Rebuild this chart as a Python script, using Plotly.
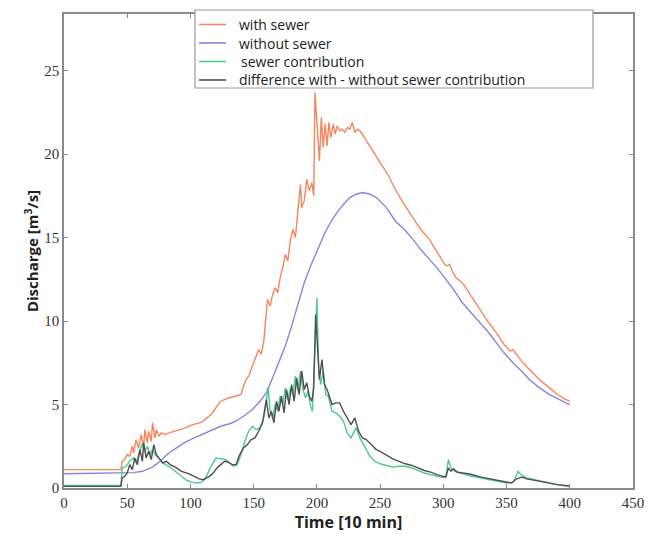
import plotly.graph_objects as go

# ---- data (time in 10-min steps, discharge in m3/s) ----
t_with = [
    0, 45, 46, 48, 50, 52, 54, 55, 57, 59,
    61, 63, 64, 66, 67, 69, 70, 72, 73, 75,
    77, 80, 85, 90, 96, 100, 105, 109, 113, 117,
    120, 124, 127, 130, 133, 136, 140, 142, 144, 146,
    149, 151, 154, 156, 158, 159.5, 161, 163, 165, 167,
    169, 171, 173, 175, 177, 179, 181, 183, 185, 187,
    188, 190, 192, 194, 196, 197.5, 198.5, 200.5, 202, 203.5,
    205, 206.5, 208, 209.5, 211, 213, 214.5, 216, 218, 220,
    222, 224, 226, 228, 230, 232, 234, 236, 240, 245,
    250, 256, 262, 269, 276, 282, 289, 296, 301, 303,
    305, 307, 310, 315, 322, 329, 336, 342, 348, 353,
    355, 357, 362, 368, 376, 384, 390, 397, 400,
]
q_with = [
    1.1, 1.1, 1.6, 1.7, 2.0, 1.9, 2.5, 2.1, 2.9, 2.4,
    3.2, 2.5, 3.5, 2.7, 3.4, 2.8, 3.9, 3.0, 3.5, 3.1,
    3.3, 3.2, 3.35, 3.45, 3.6, 3.75, 3.85, 3.95, 4.2, 4.45,
    4.8, 5.2, 5.3, 5.4, 5.45, 5.5, 5.6, 6.1, 6.5, 6.7,
    7.3, 7.6, 8.3, 8.0, 8.8, 10.1, 11.3, 10.9, 11.6, 12.0,
    11.7, 12.6, 13.2, 14.0, 13.6, 14.8, 15.5, 15.0, 16.4, 18.2,
    16.8, 17.2, 18.5, 17.8, 18.3, 17.5, 23.7, 21.0, 19.6, 22.2,
    20.4, 21.8, 20.5, 21.9, 21.0, 21.8, 21.2, 21.7, 21.4, 21.5,
    21.3, 21.6, 21.5, 21.9, 21.3, 21.5, 21.4, 21.2, 20.7, 20.1,
    19.5, 18.8, 17.9, 17.0, 16.2, 15.5, 14.9, 14.0, 13.4, 13.3,
    13.4, 13.0, 12.6, 12.3, 11.5, 10.7, 9.9, 9.3, 8.6, 8.2,
    8.3, 8.1, 7.6, 7.1, 6.5, 6.0, 5.6, 5.3, 5.2,
]

t_without = [
    0, 40, 55, 62, 70, 76, 83, 90, 96, 103,
    109, 116, 124, 131, 136, 142, 149, 155, 160, 165,
    170, 175, 180, 185, 190, 195, 200, 207, 214, 220,
    226, 231, 236, 242, 247, 255, 262, 269, 276, 282,
    289, 296, 302, 308, 315, 322, 329, 336, 342, 348,
    355, 362, 368, 376, 384, 390, 397, 400,
]
q_without = [
    0.85, 0.9, 0.92, 1.0, 1.25, 1.6, 2.1, 2.45, 2.75, 3.0,
    3.2, 3.45, 3.7, 3.85, 4.0, 4.3, 4.7, 5.2, 5.7, 6.6,
    7.5, 8.5, 9.7, 11.0, 12.3, 13.3, 14.2, 15.4, 16.3, 16.9,
    17.4, 17.6, 17.7, 17.6, 17.4, 16.8, 16.0, 15.5, 14.9, 14.3,
    13.7, 13.1, 12.5, 11.9, 11.1, 10.5, 9.9, 9.3, 8.7, 8.1,
    7.5, 7.0, 6.5, 6.0, 5.6, 5.35, 5.1, 5.0,
]

t_contrib = [
    0, 30, 45, 46, 49, 52, 55, 57, 59, 62,
    64, 66, 68, 70, 72, 75, 78, 83, 88, 93,
    97, 101, 105, 109, 112, 115, 117, 120, 124, 128,
    131, 134, 137, 140, 143, 146, 149, 152, 155, 158,
    160, 161.5, 163, 165, 167, 169, 171, 173, 175, 177,
    179, 181, 183, 185, 187, 189, 191, 193, 195, 196.5,
    198, 200, 201.5, 203, 205, 207, 209, 212, 215, 218,
    221, 224, 227, 229, 231, 234, 238, 242, 246, 250,
    255, 260, 265, 270, 275, 280, 285, 290, 295, 300,
    302, 304, 306, 309, 314, 320, 330, 340, 350, 355,
    357, 359, 362, 366, 372, 380, 390, 400,
]
q_contrib = [
    0.15, 0.15, 0.15, 1.2, 1.3, 1.6, 1.8, 1.5, 2.0, 2.7,
    2.2, 2.5, 2.0, 2.3, 2.0, 1.8, 1.5, 1.3, 1.0, 0.7,
    0.45, 0.35, 0.3, 0.35, 0.6, 1.1, 1.4, 1.8, 1.75, 1.7,
    1.5, 1.3, 1.4, 2.0, 2.8, 3.4, 3.7, 3.5, 3.6, 4.2,
    5.2, 6.0, 4.6, 4.2, 5.0, 4.6, 5.5, 5.0, 6.0, 5.3,
    6.0, 5.6, 6.7, 5.8, 7.0, 5.9, 5.4, 5.8, 4.9, 4.6,
    7.5, 11.4, 7.0, 6.2, 7.0, 5.6, 5.5, 4.6, 4.5, 4.3,
    4.0, 3.3, 3.0, 3.3, 3.6, 3.0, 2.4, 1.9, 1.6, 1.45,
    1.35, 1.25, 1.3, 1.3, 1.2, 1.05, 0.9, 0.8, 0.7, 0.62,
    0.7, 1.7, 1.2, 1.0, 0.9, 0.75, 0.6, 0.45, 0.3, 0.35,
    0.6, 1.0, 0.75, 0.6, 0.5, 0.35, 0.2, 0.1,
]

t_diff = [
    0, 30, 45, 46, 48, 50, 52, 54, 56, 58,
    60, 62, 63, 65, 67, 69, 71, 73, 75, 78,
    81, 84, 88, 93, 99, 103, 107, 110, 113, 115,
    118, 121, 124, 127, 130, 133, 136, 139, 142, 145,
    148, 151, 154, 157, 160, 162, 164, 166, 168, 170,
    172, 174, 176, 178, 180, 182, 184, 186, 188, 190,
    192, 194, 196, 197.5, 199, 200.5, 202, 204, 206, 208,
    210, 212, 215, 218, 221, 224, 227, 230, 233, 236,
    239, 243, 247, 250, 255, 260, 265, 270, 275, 280,
    285, 290, 295, 300, 302, 304, 306, 308, 311, 315,
    320, 330, 340, 350, 354, 358, 362, 366, 372, 380,
    390, 400,
]
q_diff = [
    0.1, 0.1, 0.1, 0.6, 0.7, 0.9, 1.4, 1.1, 1.8, 1.4,
    2.3, 1.6, 2.7, 1.8, 2.2, 1.7, 2.6, 2.0, 1.8, 1.5,
    1.6, 1.4, 1.25, 1.0, 0.85, 0.7, 0.55, 0.5, 0.6, 0.7,
    0.9, 1.2, 1.4, 1.6, 1.55, 1.4, 1.4, 2.0, 2.4, 2.6,
    2.9, 3.0, 3.4, 3.9, 5.3, 4.2, 4.6, 3.9, 5.2, 4.6,
    5.5, 4.5, 5.9, 5.0, 6.2, 5.2, 6.6, 5.6, 7.0, 5.9,
    6.3, 5.5, 5.2, 6.0, 10.4, 8.0, 6.5, 7.7, 6.2, 5.9,
    5.4, 5.0, 5.1, 5.1, 4.6, 4.2, 3.8, 4.2, 3.4, 3.0,
    2.9, 2.6, 2.3, 2.2, 1.95, 1.75, 1.6, 1.45, 1.35, 1.2,
    1.05, 0.95, 0.8, 0.7, 0.65, 1.2, 1.0, 1.15, 0.95, 0.9,
    0.85, 0.65, 0.5, 0.32, 0.3, 0.55, 0.65, 0.55, 0.45, 0.35,
    0.2, 0.12,
]

x_ticks = [0, 50, 100, 150, 200, 250, 300, 350, 400, 450]
y_ticks = [0, 5, 10, 15, 20, 25]

series_names = ["with sewer", "without sewer", "sewer contribution",
                "difference with - without sewer contribution"]
series_colors = ["#F5865C", "#8585DC", "#4CCB8E", "#4F4F4F"]

# ---- layout geometry (pixels); the page body adds an 8px offset ----
OFF = 8
W, H = 653 - OFF, 538 - OFF
ML, MR, MT, MB = 64 - OFF, 20, 14 - OFF, 50
PW, PH = W - ML - MR, H - MT - MB


def px_x(p):
    # page pixel -> paper fraction
    return (p - OFF - ML) / PW


def px_y(p):
    return (H - MB - (p - OFF)) / PH


fig = go.Figure()
for (tx, qy), name, col in zip(
    [(t_with, q_with), (t_without, q_without), (t_contrib, q_contrib), (t_diff, q_diff)],
    series_names, series_colors,
):
    fig.add_trace(go.Scatter(x=tx, y=qy, mode="lines", name=name, showlegend=False,
                             line=dict(color=col, width=1.4)))

axis_common = dict(
    ticks="inside", ticklen=4, tickcolor="#8a8a8a", tickwidth=1,
    showline=True, linecolor="#8a8a8a", linewidth=1.5, mirror="ticks",
    showgrid=False, zeroline=False, automargin=False,
    tickfont=dict(family="Liberation Serif", size=15, color="#333333"),
)

fig.update_xaxes(range=[0, 450], tickvals=x_ticks,
                 title=dict(text="<b>Time [10 min]</b>",
                            font=dict(family="Open Sans", size=16, color="#222222"),
                            standoff=4),
                 **axis_common)
fig.update_yaxes(range=[0, 28.4], tickvals=y_ticks,
                 title=dict(text="<b>Discharge [m<sup>3</sup>/s]</b>",
                            font=dict(family="Open Sans", size=15, color="#222222"),
                            standoff=2),
                 **axis_common)

# ---- legend drawn as a box with line samples and text ----
shapes = [dict(type="rect", xref="paper", yref="paper",
               x0=px_x(195), x1=px_x(593), y0=px_y(88), y1=px_y(10),
               line=dict(color="#9a9a9a", width=1.2), fillcolor="white", layer="above")]
annotations = []
for i, (name, col) in enumerate(zip(series_names, series_colors)):
    yy = 24.5 + 18.5 * i
    shapes.append(dict(type="line", xref="paper", yref="paper",
                       x0=px_x(199), x1=px_x(226), y0=px_y(yy), y1=px_y(yy),
                       line=dict(color=col, width=1.6), layer="above"))
    annotations.append(dict(text=name, xref="paper", yref="paper",
                            x=px_x(238 if i != 2 else 240), y=px_y(yy),
                            xanchor="left", yanchor="middle", showarrow=False, borderpad=0,
                            font=dict(family="Open Sans", size=14, color="#222222")))

fig.update_layout(
    width=W, height=H,
    margin=dict(l=ML, r=MR, t=MT, b=MB),
    paper_bgcolor="white", plot_bgcolor="white",
    showlegend=False,
    shapes=shapes, annotations=annotations,
)

fig.write_html("out.html")
